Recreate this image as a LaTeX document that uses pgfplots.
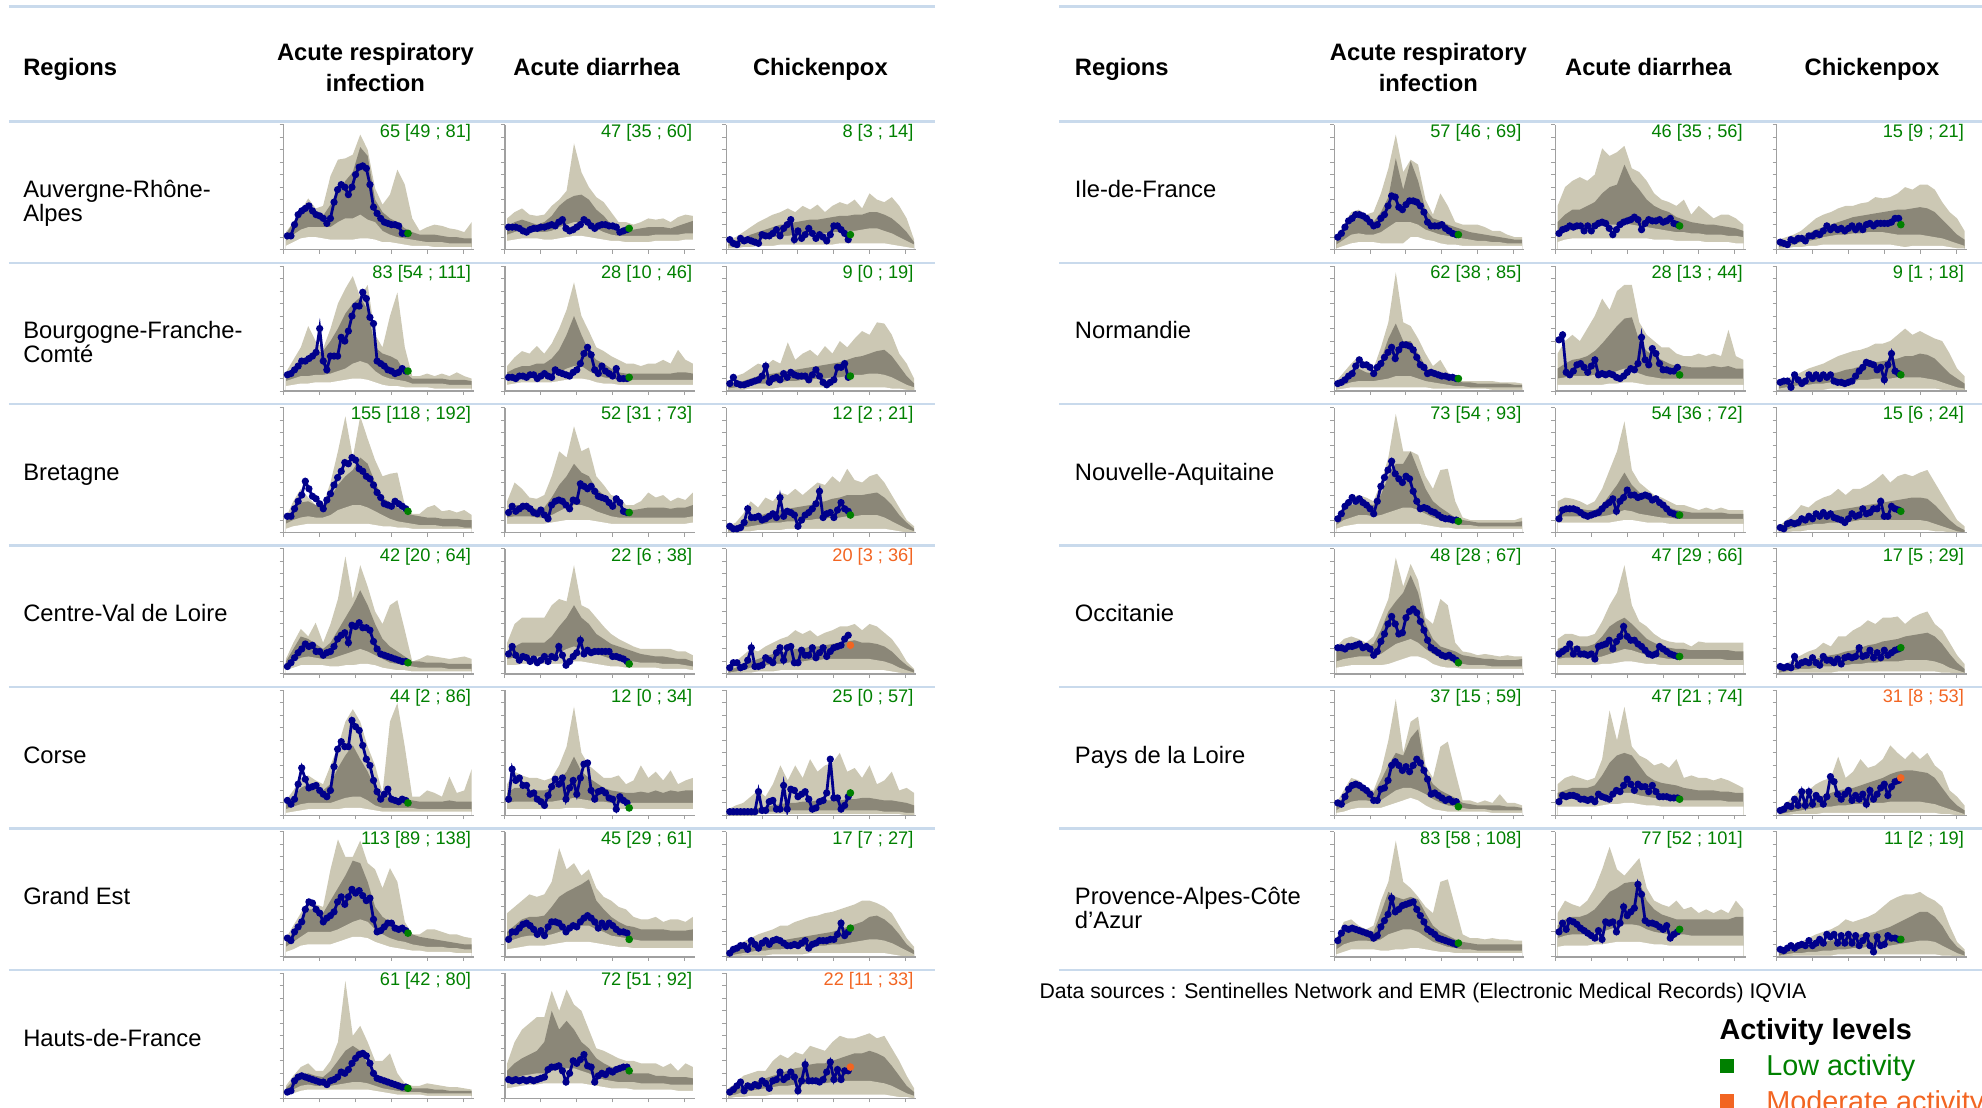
\documentclass[border=0pt]{standalone}
\usepackage{fontspec}
\setmainfont{Liberation Sans}
\usepackage{pgfplots}
\usepackage{pgfplotstable}
\pgfplotsset{compat=1.18}

\definecolor{outerc}{HTML}{CCC8B4}
\definecolor{innerc}{HTML}{8B8778}
\definecolor{linec}{HTML}{00008B}
\definecolor{lowc}{HTML}{008000}
\definecolor{modc}{HTML}{F26522}
\definecolor{rulec}{HTML}{C9DAEC}
\definecolor{axc}{HTML}{A0A0A0}

\newcommand\fh{\fontsize{9.4}{11}\selectfont\bfseries}
\newcommand\fr{\fontsize{9.4}{11}\selectfont}
\newcommand\fa{\fontsize{7.2}{8.5}\selectfont}
\newcommand\fs{\fontsize{8.4}{10}\selectfont}
\newcommand\fl{\fontsize{11.4}{13}\selectfont}

\pgfplotsset{spark/.style={scale only axis,width=75.25pt,height=49.45pt,
  xmin=0,xmax=53,ymin=0,ymax=100,axis lines*=left,
  axis line style={axc,line width=0.5pt},
  xtick={0,10,...,50},ytick={0,10,...,100},
  xticklabels={},yticklabels={},
  tick align=outside,major tick length=1.6pt,
  tick style={axc,line width=0.4pt},
  axis on top,anchor=south west}}

% band tables: outer low, inner low, inner high, outer high (every 2 weeks)
\pgfplotstableread{a b c d
3 7 12 14
6 12 22 22
9 16 29 31
10 18 33 41
10 18 30 33
9 18 27 35
8 18 36 59
8 22 45 72
8 25 55 73
8 25 62 76
9 28 82 92
9 24 75 80
8 22 40 49
6 15 30 36
6 12 25 44
5 10 22 64
4 9 17 52
3 8 14 25
3 7 12 15
3 6 12 18
2 6 12 20
2 6 11 19
2 5 10 17
2 5 10 16
2 5 9 14
2 5 9 22
}\tAa
\pgfplotstableread{a b c d
7 12 18 25
8 14 22 30
9 16 24 33
9 15 22 28
9 14 20 27
8 14 22 28
8 15 27 35
9 18 35 40
10 20 40 47
11 22 43 85
11 22 44 62
10 20 40 50
9 17 32 42
8 14 27 38
7 12 20 30
7 11 17 22
6 11 15 22
6 11 16 20
6 11 17 22
6 11 18 25
7 12 18 24
7 12 18 25
7 12 17 22
7 12 19 26
8 13 21 28
8 13 23 27
}\tAb
\pgfplotstableread{a b c d
1 3 5 8
1 4 7 10
2 5 9 14
2 7 12 18
3 8 14 22
3 9 16 25
3 10 18 28
4 11 20 30
4 11 20 33
4 12 22 30
4 12 23 35
4 13 24 32
4 13 24 36
4 13 25 30
4 14 26 35
5 14 27 38
5 15 27 36
5 15 28 40
5 16 28 33
5 17 30 45
5 17 30 40
5 15 28 38
4 13 25 42
3 10 20 35
2 7 14 25
1 4 6 8
}\tAc
\pgfplotstableread{a b c d
4 8 12 15
5 10 18 25
6 12 25 35
6 12 28 52
7 13 30 40
7 13 32 34
7 14 40 50
8 16 50 70
9 18 62 82
10 22 70 92
10 24 75 75
9 22 65 85
7 16 35 45
5 12 30 35
4 10 28 60
4 9 25 79
3 8 15 35
3 6 10 12
3 6 10 12
3 6 10 14
2 6 10 12
2 6 10 14
2 5 9 12
2 5 9 15
2 5 9 12
2 5 8 10
}\tBa
\pgfplotstableread{a b c d
5 10 15 20
6 11 18 27
7 12 20 32
7 12 20 30
7 12 22 36
7 12 22 30
7 13 26 38
8 15 33 50
9 18 45 65
10 20 60 87
10 20 45 60
9 16 32 48
7 13 25 35
6 11 22 32
6 10 18 28
5 9 15 25
5 9 14 22
5 9 14 22
5 9 14 20
5 9 14 22
5 9 14 22
5 9 14 25
5 9 14 22
5 9 15 33
5 9 15 25
5 9 14 22
}\tBb
\pgfplotstableread{a b c d
0 2 4 8
1 3 6 12
1 4 8 14
2 5 10 18
2 6 12 22
2 6 13 20
2 7 14 25
3 7 15 22
3 8 16 39
3 8 17 25
3 9 18 30
3 9 19 33
3 10 20 28
3 10 21 36
3 11 22 30
3 11 23 40
3 12 25 35
3 13 27 42
3 13 28 48
3 14 30 45
3 14 32 55
3 13 33 54
2 11 28 45
2 8 20 30
1 5 12 22
0 3 6 10
}\tBc
\pgfplotstableread{a b c d
3 7 10 12
5 10 18 25
6 12 24 35
7 13 25 28
7 12 22 22
7 12 20 22
7 14 28 40
7 18 38 65
7 20 45 93
7 22 50 60
7 22 60 93
7 20 55 75
6 17 40 58
5 14 28 45
5 11 24 47
4 9 20 48
4 8 16 22
3 7 14 15
3 6 13 15
3 6 12 20
3 6 12 22
3 5 11 17
3 5 11 18
3 5 11 16
3 4 10 18
3 4 10 14
}\tCa
\pgfplotstableread{a b c d
7 12 18 25
7 13 22 40
7 13 22 35
7 13 20 28
7 12 19 27
7 12 20 30
8 14 28 45
9 17 38 65
10 20 45 60
10 22 55 85
10 22 48 65
10 20 45 68
9 17 35 45
8 15 30 38
7 13 24 30
7 12 22 28
7 12 19 22
7 12 18 22
7 12 19 25
7 12 20 32
7 12 20 28
7 12 20 30
7 12 19 25
7 12 20 28
7 12 20 26
8 13 22 32
}\tCb
\pgfplotstableread{a b c d
0 1 3 5
0 2 5 8
1 4 8 15
1 5 11 25
2 6 13 20
2 7 15 28
2 8 16 25
2 8 18 32
3 9 19 30
3 9 20 35
3 10 21 30
3 10 22 35
3 11 24 40
3 11 25 38
3 12 27 45
3 12 28 40
3 13 30 51
3 13 30 42
3 14 30 40
3 14 31 45
3 14 32 47
3 12 28 40
2 9 22 30
1 6 14 20
0 3 8 10
0 1 3 5
}\tCc
\pgfplotstableread{a b c d
3 6 10 12
5 10 20 25
7 13 30 36
7 14 28 30
7 13 24 41
7 12 20 25
6 12 25 40
6 14 35 60
7 16 45 94
7 18 55 60
8 20 67 87
8 18 55 70
7 15 40 50
5 12 28 40
4 9 22 55
3 8 18 59
3 7 14 35
2 6 10 10
2 5 10 12
2 5 9 15
2 5 9 14
2 5 9 13
2 4 8 12
2 4 8 13
2 4 8 14
2 4 8 12
}\tDa
\pgfplotstableread{a b c d
7 12 18 25
7 13 22 40
8 14 25 45
8 14 25 45
8 14 25 45
8 14 25 45
8 15 30 55
8 17 38 60
9 20 45 58
10 22 55 87
10 20 45 55
9 18 40 52
8 16 32 45
7 14 28 38
6 12 24 32
6 11 22 28
5 10 20 25
5 10 18 22
5 9 16 20
5 9 15 20
5 9 14 20
4 8 14 20
4 8 13 20
4 8 12 18
4 7 12 18
3 6 10 15
}\tDb
\pgfplotstableread{a b c d
0 1 3 5
0 2 5 10
1 3 8 15
1 5 10 20
2 6 12 18
2 7 14 22
2 8 16 25
3 8 17 28
3 9 18 30
3 10 20 35
3 10 20 32
3 11 22 35
3 11 22 30
3 12 23 33
3 12 24 35
3 12 25 38
3 12 26 38
3 12 27 40
3 12 25 35
3 12 25 40
3 11 24 38
3 10 22 33
2 8 18 28
1 5 12 20
0 3 7 10
0 1 3 4
}\tDc
\pgfplotstableread{a b c d
2 5 10 12
3 7 15 20
4 9 22 30
5 10 25 32
5 10 22 28
5 10 20 25
5 10 25 40
5 12 38 55
6 14 48 75
6 15 56 85
6 15 45 75
5 12 35 55
4 8 22 40
3 6 15 18
3 6 15 75
3 6 13 90
3 6 12 55
3 6 12 15
3 5 11 15
3 5 11 20
3 5 11 18
3 5 11 15
3 5 12 31
3 5 11 18
3 5 11 20
3 5 11 37
}\tEa
\pgfplotstableread{a b c d
5 10 18 25
5 11 22 35
5 11 22 32
5 11 20 30
5 11 20 30
5 11 20 28
5 11 22 30
5 12 28 40
6 13 35 55
6 14 47 87
6 13 35 50
5 12 30 40
5 11 26 35
5 11 22 30
5 10 20 30
5 10 19 32
5 10 18 25
5 10 18 28
5 10 19 40
5 10 18 30
5 10 20 35
5 10 18 28
5 10 20 36
5 10 19 25
5 10 20 28
5 10 20 30
}\tEb
\pgfplotstableread{a b c d
0 1 3 5
0 1 3 8
0 2 4 10
0 2 5 15
1 2 6 20
1 3 7 15
1 3 8 25
1 3 9 40
1 4 10 28
1 4 10 40
1 4 11 30
1 4 11 45
1 4 12 35
1 4 12 40
1 4 12 42
1 4 12 50
1 4 13 35
1 4 13 38
1 4 14 30
1 4 14 40
1 4 13 25
1 3 12 28
1 3 12 35
1 3 11 20
0 2 10 22
0 2 8 18
}\tEc
\pgfplotstableread{a b c d
4 8 12 15
6 12 20 25
9 16 28 35
10 20 38 45
10 20 38 42
10 20 35 40
10 20 45 70
12 22 55 94
14 25 65 80
16 28 77 80
16 30 75 93
15 28 60 75
12 22 40 70
10 18 32 55
8 15 28 71
7 13 25 60
6 12 22 28
5 10 18 18
5 9 16 18
4 8 15 22
4 8 14 22
4 8 13 20
4 7 12 18
3 7 11 18
3 6 10 16
3 6 10 15
}\tFa
\pgfplotstableread{a b c d
6 12 20 35
7 14 25 40
8 16 30 45
9 17 32 50
9 17 32 48
9 17 33 50
10 18 40 60
11 20 48 87
12 22 52 70
12 24 55 75
12 25 58 65
12 25 62 70
11 22 45 55
10 20 38 48
9 17 32 45
8 16 28 40
8 15 25 38
7 14 24 32
7 13 22 30
7 13 22 30
7 13 22 32
7 13 22 28
7 13 21 30
7 13 21 30
7 13 21 28
7 13 22 32
}\tFb
\pgfplotstableread{a b c d
0 1 3 5
0 2 5 8
1 3 7 12
1 4 9 15
1 5 10 18
1 5 11 20
2 6 12 22
2 6 13 25
2 7 14 25
2 7 15 28
2 8 16 30
3 8 17 32
3 9 18 33
3 9 19 35
3 10 20 36
3 10 22 38
3 11 24 40
3 12 26 42
3 13 28 45
3 14 32 45
3 14 33 43
3 13 30 40
2 11 25 35
1 8 18 25
0 5 10 15
0 2 5 8
}\tFc
\pgfplotstableread{a b c d
2 4 8 10
4 7 14 18
6 10 18 25
7 11 20 28
7 10 18 22
7 10 17 22
7 10 22 30
7 11 30 45
7 12 38 94
7 13 42 50
7 13 38 58
7 12 28 45
6 10 20 30
5 8 15 30
4 7 13 36
3 6 11 20
3 5 9 12
3 5 8 10
3 5 8 10
2 4 8 12
2 4 7 11
2 4 7 10
2 4 6 9
2 4 6 9
2 4 6 8
2 4 6 7
}\tGa
\pgfplotstableread{a b c d
8 14 22 28
9 16 28 45
10 18 32 55
11 19 35 60
11 20 38 65
12 20 45 65
12 22 70 86
12 23 55 70
12 24 62 87
12 24 55 75
12 22 45 70
11 20 40 55
10 17 32 40
9 15 28 38
8 14 25 35
8 13 24 32
8 13 22 30
7 13 20 30
7 12 20 28
7 12 20 28
7 12 18 28
7 12 18 25
7 11 17 28
6 11 17 22
6 11 17 28
6 11 16 25
}\tGb
\pgfplotstableread{a b c d
0 2 4 8
1 3 7 12
1 5 10 18
2 6 12 20
2 7 14 22
2 8 16 22
3 9 18 30
3 10 20 35
3 10 22 32
3 11 24 37
3 11 25 35
3 12 27 42
3 12 28 40
3 12 28 38
3 13 30 45
3 13 32 50
3 14 34 48
3 14 36 48
3 14 36 50
3 14 38 52
3 13 36 48
3 12 33 50
2 10 26 40
1 7 18 30
1 4 10 18
0 2 5 8
}\tGc
\pgfplotstableread{a b c d
1 4 8 10
3 8 15 20
5 12 22 30
6 13 26 32
6 12 24 28
6 12 22 30
5 14 30 45
5 18 42 65
5 22 73 92
5 22 48 62
10 22 71 72
10 20 55 68
8 16 32 40
7 14 25 28
5 12 23 45
4 11 20 35
4 10 18 22
3 9 16 20
3 8 14 20
3 7 13 20
3 7 12 18
3 6 11 15
3 6 10 15
3 5 9 12
3 5 8 10
3 5 8 10
}\tHa
\pgfplotstableread{a b c d
6 12 22 35
8 14 28 50
9 16 32 55
9 17 32 58
9 18 35 55
9 18 38 60
9 19 45 81
9 20 50 75
9 20 52 78
9 21 68 83
9 20 55 65
9 19 48 62
9 18 40 55
8 17 35 45
8 16 32 40
8 15 30 38
7 14 26 35
7 14 24 40
7 13 22 28
7 13 21 35
6 12 20 30
6 12 20 25
6 12 19 28
6 11 18 28
5 11 17 25
5 10 15 20
}\tHb
\pgfplotstableread{a b c d
0 2 4 8
1 3 6 10
2 4 8 12
2 6 10 15
3 7 13 20
3 8 16 25
4 10 18 28
4 11 20 30
4 12 22 33
4 12 24 35
4 13 26 35
4 13 27 37
4 14 28 38
4 14 29 42
4 14 30 41
4 13 31 42
3 12 32 45
2 12 32 50
3 12 33 48
3 12 34 52
3 11 33 52
3 10 30 48
3 9 24 38
2 7 18 30
1 5 12 25
1 3 8 15
}\tHc
\pgfplotstableread{a b c d
1 3 6 8
2 5 10 15
3 7 15 22
3 8 18 28
3 8 15 22
3 8 14 18
3 9 25 35
3 10 42 55
3 12 54 95
3 12 40 55
3 12 40 52
3 10 30 42
3 8 20 30
2 7 14 20
2 6 12 25
2 5 10 15
2 4 8 10
2 4 7 8
2 3 7 8
2 3 6 8
2 3 6 8
1 3 6 8
1 3 6 7
1 3 6 7
1 3 5 7
1 3 5 6
}\tIa
\pgfplotstableread{a b c d
5 10 18 30
5 11 22 40
5 12 25 45
5 12 26 40
5 12 28 50
5 13 32 60
5 13 38 74
6 14 45 65
6 16 52 80
7 18 58 85
7 17 59 85
6 14 40 55
5 12 32 45
5 11 28 40
5 10 25 35
5 10 22 35
5 10 20 30
5 10 20 28
5 10 19 28
5 10 19 30
5 10 19 28
5 10 20 30
5 10 19 28
5 10 20 49
5 10 18 28
5 10 18 25
}\tIb
\pgfplotstableread{a b c d
0 2 4 8
0 3 6 10
1 4 7 12
1 5 9 15
1 5 10 18
1 6 11 20
1 6 12 22
2 7 14 25
2 7 15 28
2 8 17 30
2 8 18 32
2 9 20 33
2 9 22 35
2 10 23 38
2 10 24 38
2 10 25 40
2 11 26 45
2 11 28 50
2 11 28 45
2 11 30 48
2 10 29 45
2 9 26 42
1 7 20 40
1 5 14 30
0 3 10 18
0 2 6 12
}\tIc
\pgfplotstableread{a b c d
3 6 10 12
5 10 18 22
6 12 22 28
7 14 24 30
7 14 23 28
7 13 22 25
7 14 30 40
7 16 45 60
7 18 55 95
7 20 55 65
7 20 65 65
7 18 50 62
6 15 35 45
5 12 25 35
4 10 20 50
4 8 16 51
3 7 12 25
3 6 10 12
3 6 9 10
3 5 8 10
3 5 8 10
3 5 8 10
3 5 8 10
3 5 8 10
3 5 8 10
3 5 9 12
}\tJa
\pgfplotstableread{a b c d
8 12 18 25
8 13 20 28
8 13 20 27
8 13 19 25
8 13 18 22
8 13 18 25
8 13 22 35
8 14 30 50
9 16 38 65
10 18 48 89
10 17 38 50
9 15 32 40
8 14 28 35
8 13 24 30
8 12 22 28
7 12 20 25
7 11 18 22
7 11 17 22
7 11 16 20
7 11 16 18
7 11 16 20
7 11 16 18
7 11 16 20
7 11 15 18
7 11 15 18
7 11 15 18
}\tJb
\pgfplotstableread{a b c d
0 1 3 5
0 2 6 10
1 4 8 15
1 5 10 22
2 6 12 20
2 7 14 25
2 7 16 28
2 8 17 30
2 8 18 35
2 9 19 30
2 9 20 35
2 10 21 35
2 10 22 38
2 10 23 42
2 10 24 47
2 10 25 40
2 10 26 45
2 10 27 47
2 10 28 45
2 10 28 48
2 9 27 50
1 7 22 40
1 5 16 30
0 3 10 20
0 1 5 10
0 0 2 5
}\tJc
\pgfplotstableread{a b c d
5 10 18 22
6 12 22 28
7 13 24 30
7 14 24 28
7 14 22 25
7 14 24 30
7 16 35 45
8 20 50 60
10 24 58 93
12 26 65 70
14 28 79 88
14 25 65 75
12 20 40 45
8 16 28 40
6 13 22 60
5 11 20 55
5 9 18 25
4 8 15 18
4 7 14 17
4 7 13 15
4 7 12 16
4 6 12 15
4 6 11 14
4 6 11 15
4 6 11 14
4 6 12 14
}\tKa
\pgfplotstableread{a b c d
7 12 20 28
7 13 22 32
7 13 22 32
7 13 22 30
7 13 22 30
7 13 24 32
8 14 30 42
8 16 38 55
9 18 42 65
10 20 45 87
10 19 40 55
9 17 34 42
8 15 28 38
8 14 25 32
7 13 22 28
7 12 21 26
7 12 20 25
7 12 20 25
7 12 19 22
7 12 19 26
7 12 19 25
7 12 19 25
7 12 19 25
7 11 19 25
7 11 18 25
7 11 18 25
}\tKb
\pgfplotstableread{a b c d
0 1 3 5
0 2 5 8
1 3 7 12
1 4 9 15
1 4 11 18
1 5 12 20
1 6 14 25
1 6 15 22
2 7 16 30
2 7 18 30
2 8 19 35
2 8 21 38
2 9 23 43
2 9 24 40
2 10 26 45
2 10 27 45
2 10 28 46
2 11 30 40
2 11 31 45
2 11 32 48
2 11 33 50
2 10 30 40
1 8 24 35
1 5 16 25
0 3 9 15
0 1 4 8
}\tKc
\pgfplotstableread{a b c d
2 4 8 10
3 8 15 20
5 11 22 30
6 12 24 28
6 12 20 22
6 11 18 20
6 12 28 35
8 16 40 60
10 20 50 93
12 22 48 50
14 22 62 75
12 20 69 79
8 17 35 40
5 13 25 30
4 10 20 55
3 8 17 59
3 7 14 35
3 6 10 12
3 5 9 12
3 5 8 10
3 5 8 12
2 4 8 10
2 4 8 17
2 4 7 10
2 4 7 10
2 4 6 8
}\tLa
\pgfplotstableread{a b c d
7 12 18 25
7 13 20 30
7 13 22 32
7 13 22 30
7 13 22 28
7 13 24 30
8 14 32 45
9 16 42 84
9 17 48 60
10 18 50 87
10 18 48 55
9 16 40 48
8 15 32 45
8 14 28 40
7 13 26 42
7 13 25 38
7 12 24 45
7 12 22 30
7 12 21 32
7 12 20 30
7 12 20 30
7 12 20 28
7 12 19 30
7 11 19 28
7 11 18 25
7 11 18 22
}\tLb
\pgfplotstableread{a b c d
0 1 3 5
0 2 5 10
1 3 8 15
1 4 10 22
1 5 12 20
1 6 14 25
2 7 16 28
2 7 18 30
2 8 20 47
2 8 21 30
2 9 22 35
2 9 24 45
2 10 26 38
2 10 28 40
2 10 30 45
2 11 33 56
2 11 35 50
2 11 36 45
2 11 36 51
2 11 35 45
2 10 34 50
2 9 30 40
1 7 22 35
1 5 14 20
0 3 8 15
0 1 4 8
}\tLc
\pgfplotstableread{a b c d
2 6 12 15
4 10 22 28
6 12 24 30
6 13 22 25
6 13 20 22
6 12 20 25
5 14 35 45
5 18 52 60
6 20 48 93
6 22 46 60
7 22 48 55
7 20 46 48
6 16 35 40
5 12 25 35
4 10 20 60
4 8 17 62
3 7 14 40
3 6 12 18
3 6 11 15
3 5 10 15
3 5 10 14
3 5 10 15
3 5 10 14
3 5 10 14
3 5 10 13
3 5 10 13
}\tMa
\pgfplotstableread{a b c d
8 15 25 35
9 17 30 45
9 18 32 42
9 18 32 40
9 18 34 45
10 19 38 55
10 20 45 70
11 22 52 88
12 24 55 70
12 26 59 65
12 26 60 72
12 25 60 79
11 22 45 55
10 20 38 45
10 19 34 42
9 18 32 40
9 18 30 45
9 18 30 38
9 17 30 40
9 17 30 35
9 17 30 38
9 17 30 35
9 17 30 38
9 17 30 35
9 17 32 45
9 17 32 38
}\tMb
\pgfplotstableread{a b c d
0 1 3 5
0 2 5 8
1 3 6 10
1 3 8 12
1 4 9 15
1 4 10 18
1 5 12 20
1 5 13 22
2 6 14 25
2 6 16 30
2 7 17 28
2 7 18 30
2 8 19 32
2 8 20 35
2 9 22 40
2 9 24 45
2 10 27 48
2 11 30 50
2 12 33 50
2 13 36 52
2 13 36 48
2 12 32 45
1 9 25 40
1 6 15 25
0 3 8 12
0 1 4 6
}\tMc

% #1 left (px), #2 row top (px), #3 band table, #4 weekly line, #5 current week, #6 colour, #7 label
\newcommand\spark[7]{%
\begin{axis}[spark,at={({#1*0.5pt},{-(#2+101.5)*0.5pt})}]
\addplot[draw=none,fill=outerc] table[x expr=0.6+2.07*\coordindex,y index=3]{#3}\closedcycle;
\addplot[draw=none,fill=innerc] table[x expr=0.6+2.07*\coordindex,y index=2]{#3}\closedcycle;
\addplot[draw=none,fill=outerc] table[x expr=0.6+2.07*\coordindex,y index=1]{#3}\closedcycle;
\addplot[draw=none,fill=white] table[x expr=0.6+2.07*\coordindex,y index=0]{#3}\closedcycle;
\addplot[linec,line width=1.1pt,mark=*,mark size=0.85pt] table[header=false,row sep=\\,x expr=\coordindex+1,y index=0]{#4};
\addplot[only marks,mark=*,mark size=1.3pt,color=#6] coordinates {(34.6,#5)};
\end{axis}
\node[anchor=base east,inner sep=0pt,text=#6,font=\fa] at ({(#1+148.5)*0.5pt},{-(#2+12.4)*0.5pt}) {#7};
}

\begin{document}
\begin{tikzpicture}
\useasboundingbox (0,0) rectangle (784pt,-438pt);
\clip (0,0) rectangle (784pt,-438pt);
\begin{scope}[x=0.5pt,y=-0.5pt]
\foreach \y in {5,96,207.9,319.8,431.7,543.6,655.5,767.4}{
  \draw[rulec,line width=1pt] (7,\y) -- (740,\y);
  \draw[rulec,line width=1pt] (838,\y) -- (1580,\y);}
\tikzset{lab/.style={anchor=base west,inner sep=0pt},hd/.style={anchor=base,inner sep=0pt}}
% headers
\node[lab] at (18,59.7) {\fh Regions};
\node[hd] at (297,47.7) {\fh Acute respiratory};
\node[hd] at (297,72.7) {\fh infection};
\node[hd] at (472,59.7) {\fh Acute diarrhea};
\node[hd] at (649,59.7) {\fh Chickenpox};
\node[lab] at (850,59.7) {\fh Regions};
\node[hd] at (1130,47.7) {\fh Acute respiratory};
\node[hd] at (1130,72.7) {\fh infection};
\node[hd] at (1304,59.7) {\fh Acute diarrhea};
\node[hd] at (1481,59.7) {\fh Chickenpox};
% regions
\node[lab] at (18,156.2) {\fr Auvergne-Rhône-};
\node[lab] at (18,175.2) {\fr Alpes};
\node[lab] at (18,268.1) {\fr Bourgogne-Franche-};
\node[lab] at (18,287.1) {\fr Comté};
\node[lab] at (18,380) {\fr Bretagne};
\node[lab] at (18,491.9) {\fr Centre-Val de Loire};
\node[lab] at (18,603.8) {\fr Corse};
\node[lab] at (18,715.7) {\fr Grand Est};
\node[lab] at (18,827.6) {\fr Hauts-de-France};
\node[lab] at (850,156.2) {\fr Ile-de-France};
\node[lab] at (850,268.1) {\fr Normandie};
\node[lab] at (850,380) {\fr Nouvelle-Aquitaine};
\node[lab] at (850,491.9) {\fr Occitanie};
\node[lab] at (850,603.8) {\fr Pays de la Loire};
\node[lab] at (850,715.7) {\fr Provence-Alpes-Côte};
\node[lab] at (850,734.7) {\fr d’Azur};
% footer and legend
\node[lab] at (822,790) {\fs Data sources : Sentinelles Network and EMR (Electronic Medical Records) IQVIA};
\node[lab] at (1360,822.2) {\fl\bfseries Activity levels};
\fill[lowc] (1361,837.5) rectangle (1372,848.5);
\node[lab,text=lowc] at (1397,851.2) {\fl Low activity};
\fill[modc] (1361,865.5) rectangle (1372,876.5);
\node[lab,text=modc] at (1397,879.2) {\fl Moderate activity};
\end{scope}

% left table
\spark{224.5}{96}{\tAa}{11\\11\\20\\28\\31\\33\\35\\31\\28\\27\\25\\21\\25\\38\\48\\52\\50\\44\\50\\60\\66\\67\\65\\52\\34\\29\\25\\22\\21\\20\\20\\19\\13\\13\\}{13}{lowc}{65 [49 ; 81]}
\spark{399.5}{96}{\tAb}{18\\18\\18\\17\\15\\14\\16\\17\\17\\18\\18\\19\\20\\19\\22\\24\\17\\15\\16\\18\\20\\24\\22\\19\\17\\19\\20\\20\\19\\19\\18\\14\\15\\16\\}{17}{lowc}{47 [35 ; 60]}
\spark{574.5}{96}{\tAc}{8\\5\\4\\9\\7\\8\\7\\6\\5\\12\\11\\11\\13\\16\\11\\17\\20\\24\\8\\15\\9\\12\\17\\13\\9\\12\\10\\7\\12\\19\\19\\16\\13\\8\\}{12}{lowc}{8 [3 ; 14]}
\spark{224.5}{207.9}{\tBa}{13\\14\\17\\20\\24\\24\\26\\28\\31\\50\\24\\17\\28\\28\\28\\43\\40\\48\\60\\68\\68\\79\\74\\59\\54\\24\\22\\20\\17\\16\\14\\15\\18\\16\\}{16}{lowc}{83 [54 ; 111]}
\spark{399.5}{207.9}{\tBb}{11\\11\\10\\12\\12\\11\\13\\13\\10\\12\\14\\12\\11\\17\\15\\14\\13\\12\\15\\17\\22\\30\\35\\29\\17\\14\\20\\16\\14\\12\\18\\10\\10\\10\\}{11}{lowc}{28 [10 ; 46]}
\spark{574.5}{207.9}{\tBc}{6\\11\\6\\5\\5\\6\\7\\8\\9\\12\\20\\7\\10\\11\\9\\14\\11\\15\\13\\12\\12\\12\\9\\13\\17\\12\\7\\5\\7\\9\\19\\19\\22\\11\\}{12}{lowc}{9 [0 ; 19]}
\spark{224.5}{319.8}{\tCa}{13\\13\\19\\25\\30\\41\\35\\29\\27\\23\\19\\26\\31\\38\\44\\49\\56\\55\\60\\58\\51\\49\\45\\43\\38\\32\\28\\23\\22\\21\\25\\23\\21\\19\\}{17}{lowc}{155 [118 ; 192]}
\spark{399.5}{319.8}{\tCb}{16\\21\\17\\19\\21\\21\\19\\16\\15\\18\\14\\11\\22\\25\\26\\25\\22\\19\\26\\25\\39\\37\\35\\37\\33\\29\\28\\27\\24\\21\\27\\24\\17\\16\\}{16}{lowc}{52 [31 ; 73]}
\spark{574.5}{319.8}{\tCc}{5\\3\\3\\4\\8\\19\\12\\12\\13\\10\\11\\13\\15\\12\\28\\13\\17\\16\\14\\5\\10\\14\\16\\19\\23\\33\\12\\15\\16\\12\\18\\24\\19\\17\\}{14}{lowc}{12 [2 ; 21]}
\spark{224.5}{431.7}{\tDa}{6\\9\\13\\17\\20\\24\\22\\23\\18\\18\\15\\17\\18\\22\\28\\31\\33\\25\\39\\38\\41\\37\\37\\35\\26\\20\\16\\15\\14\\13\\12\\11\\10\\10\\}{9}{lowc}{42 [20 ; 64]}
\spark{399.5}{431.7}{\tDb}{16\\22\\15\\11\\14\\13\\10\\12\\9\\11\\14\\10\\14\\13\\22\\15\\7\\10\\14\\17\\27\\16\\19\\17\\18\\18\\18\\18\\18\\14\\14\\13\\12\\10\\}{8}{lowc}{22 [6 ; 38]}
\spark{574.5}{431.7}{\tDc}{5\\9\\9\\5\\6\\11\\21\\6\\6\\7\\13\\11\\9\\17\\21\\11\\21\\22\\9\\9\\19\\15\\15\\21\\13\\17\\21\\14\\18\\21\\22\\23\\28\\31\\}{23}{modc}{20 [3 ; 36]}
\spark{224.5}{543.6}{\tEa}{12\\9\\13\\25\\38\\29\\22\\23\\24\\20\\17\\15\\20\\39\\53\\59\\55\\55\\76\\71\\68\\56\\45\\40\\28\\19\\13\\17\\21\\13\\12\\11\\13\\12\\}{10}{lowc}{44 [2 ; 86]}
\spark{399.5}{543.6}{\tEb}{13\\37\\28\\30\\24\\24\\17\\18\\13\\11\\8\\16\\23\\29\\25\\30\\13\\22\\28\\17\\30\\41\\42\\20\\13\\19\\20\\18\\14\\13\\5\\15\\12\\10\\}{6}{lowc}{12 [0 ; 34]}
\spark{574.5}{543.6}{\tEc}{3\\3\\3\\3\\3\\3\\3\\3\\19\\4\\4\\11\\12\\5\\5\\24\\5\\21\\20\\15\\17\\19\\13\\5\\6\\11\\12\\18\\45\\14\\14\\5\\8\\15\\}{18}{lowc}{25 [0 ; 57]}
\spark{224.5}{655.5}{\tFa}{15\\13\\20\\24\\28\\38\\44\\43\\38\\35\\28\\31\\33\\36\\44\\48\\42\\48\\54\\51\\53\\49\\45\\47\\30\\20\\21\\24\\27\\27\\23\\22\\23\\21\\}{19}{lowc}{113 [89 ; 138]}
\spark{399.5}{655.5}{\tFb}{14\\20\\20\\23\\26\\27\\25\\22\\18\\21\\17\\24\\28\\28\\27\\24\\20\\23\\25\\24\\28\\31\\33\\31\\28\\23\\27\\24\\27\\25\\22\\20\\20\\19\\}{14}{lowc}{45 [29 ; 61]}
\spark{574.5}{655.5}{\tFc}{3\\6\\7\\9\\9\\6\\13\\10\\7\\11\\13\\10\\13\\14\\13\\11\\9\\9\\10\\9\\11\\13\\7\\10\\11\\13\\13\\13\\14\\14\\18\\27\\17\\20\\}{23}{lowc}{17 [7 ; 27]}
\spark{224.5}{767.4}{\tGa}{5\\6\\14\\17\\18\\17\\16\\15\\14\\13\\13\\11\\14\\15\\17\\21\\20\\23\\28\\32\\35\\36\\34\\28\\20\\16\\15\\14\\13\\12\\11\\10\\9\\9\\}{8}{lowc}{61 [42 ; 80]}
\spark{399.5}{767.4}{\tGb}{15\\14\\15\\14\\15\\14\\15\\14\\15\\16\\17\\23\\25\\25\\26\\22\\13\\20\\30\\28\\31\\35\\26\\25\\13\\18\\20\\19\\22\\21\\23\\24\\25\\25\\}{22}{lowc}{72 [51 ; 92]}
\spark{574.5}{767.4}{\tGc}{5\\7\\10\\13\\6\\10\\9\\11\\10\\14\\12\\8\\14\\15\\21\\15\\17\\21\\17\\6\\14\\27\\14\\14\\14\\13\\15\\21\\29\\15\\23\\15\\22\\22\\}{25}{modc}{22 [11 ; 33]}
% right table
\spark{1055.5}{96}{\tHa}{10\\13\\18\\23\\25\\28\\28\\27\\25\\22\\19\\20\\25\\28\\35\\43\\42\\34\\32\\36\\39\\39\\38\\35\\30\\22\\19\\19\\19\\20\\17\\15\\13\\12\\}{12}{lowc}{57 [46 ; 69]}
\spark{1230.5}{96}{\tHb}{13\\16\\17\\19\\18\\19\\19\\15\\19\\15\\19\\21\\22\\21\\17\\12\\16\\20\\22\\23\\24\\26\\24\\16\\21\\24\\23\\23\\24\\22\\23\\25\\21\\20\\}{19}{lowc}{46 [35 ; 56]}
\spark{1405.5}{96}{\tHc}{6\\5\\4\\8\\7\\9\\9\\7\\11\\11\\13\\12\\15\\19\\16\\18\\16\\17\\15\\17\\19\\16\\19\\16\\20\\21\\19\\21\\21\\21\\21\\22\\25\\25\\}{20}{lowc}{15 [9 ; 21]}
\spark{1055.5}{207.9}{\tIa}{6\\7\\9\\12\\14\\20\\25\\21\\21\\19\\14\\19\\22\\27\\31\\35\\26\\33\\37\\37\\36\\33\\27\\21\\19\\14\\15\\14\\13\\12\\12\\11\\11\\10\\}{10}{lowc}{62 [38 ; 85]}
\spark{1230.5}{207.9}{\tIb}{41\\45\\15\\13\\16\\21\\22\\19\\15\\20\\25\\13\\14\\13\\14\\13\\11\\10\\12\\15\\18\\17\\22\\43\\25\\21\\34\\30\\22\\17\\17\\16\\16\\19\\}{13}{lowc}{28 [13 ; 44]}
\spark{1405.5}{207.9}{\tIc}{7\\8\\8\\3\\13\\9\\6\\8\\13\\10\\13\\10\\13\\11\\13\\8\\7\\7\\6\\7\\8\\12\\16\\19\\23\\22\\21\\17\\19\\9\\21\\30\\16\\14\\}{13}{lowc}{9 [1 ; 18]}
\spark{1055.5}{319.8}{\tJa}{11\\15\\21\\24\\28\\25\\27\\24\\22\\19\\15\\25\\37\\44\\50\\57\\47\\43\\40\\45\\43\\33\\25\\19\\20\\19\\17\\16\\14\\12\\11\\11\\10\\10\\}{9}{lowc}{73 [54 ; 93]}
\spark{1230.5}{319.8}{\tJb}{11\\18\\19\\19\\19\\18\\16\\14\\13\\14\\15\\16\\19\\22\\24\\27\\17\\25\\28\\34\\30\\30\\28\\29\\30\\29\\26\\27\\24\\22\\19\\16\\15\\14\\}{14}{lowc}{54 [36 ; 72]}
\spark{1405.5}{319.8}{\tJc}{4\\3\\7\\8\\7\\8\\11\\10\\13\\11\\15\\13\\16\\13\\15\\12\\11\\10\\8\\11\\15\\13\\14\\19\\15\\16\\19\\19\\25\\13\\13\\21\\19\\18\\}{17}{lowc}{15 [6 ; 24]}
\spark{1055.5}{431.7}{\tKa}{21\\21\\20\\22\\22\\23\\24\\21\\22\\20\\15\\18\\26\\32\\40\\46\\40\\32\\33\\45\\50\\52\\49\\42\\35\\27\\21\\19\\17\\15\\14\\15\\13\\11\\}{9}{lowc}{48 [28 ; 67]}
\spark{1230.5}{431.7}{\tKb}{16\\18\\20\\24\\16\\20\\16\\16\\15\\16\\12\\22\\23\\24\\27\\20\\26\\30\\38\\30\\27\\27\\24\\22\\19\\16\\15\\16\\22\\20\\18\\16\\15\\14\\}{14}{lowc}{47 [29 ; 66]}
\spark{1405.5}{431.7}{\tKc}{6\\5\\6\\5\\14\\7\\9\\10\\9\\13\\9\\7\\14\\11\\11\\9\\12\\8\\13\\14\\13\\14\\21\\14\\15\\19\\13\\17\\13\\19\\15\\17\\19\\20\\}{21}{lowc}{17 [5 ; 29]}
\spark{1055.5}{543.6}{\tLa}{10\\9\\15\\21\\24\\25\\24\\22\\20\\17\\12\\12\\21\\22\\28\\40\\43\\40\\36\\39\\35\\40\\45\\42\\36\\29\\17\\18\\16\\14\\12\\13\\11\\11\\}{7}{lowc}{37 [15 ; 59]}
\spark{1230.5}{543.6}{\tLb}{11\\16\\15\\16\\16\\15\\13\\13\\12\\13\\11\\17\\15\\14\\13\\17\\20\\19\\24\\29\\25\\20\\25\\23\\23\\19\\24\\19\\15\\15\\15\\14\\14\\14\\}{13}{lowc}{47 [21 ; 74]}
\spark{1405.5}{543.6}{\tLc}{4\\5\\8\\7\\13\\8\\19\\8\\19\\9\\16\\13\\9\\15\\31\\27\\17\\13\\17\\20\\12\\16\\13\\17\\9\\20\\13\\17\\22\\25\\16\\23\\27\\28\\}{30}{modc}{31 [8 ; 53]}
\spark{1055.5}{655.5}{\tMa}{13\\19\\23\\22\\23\\22\\21\\20\\19\\18\\15\\17\\24\\29\\34\\47\\36\\38\\41\\42\\43\\44\\38\\33\\28\\22\\20\\18\\15\\14\\13\\12\\11\\10\\}{11}{lowc}{83 [58 ; 108]}
\spark{1230.5}{655.5}{\tMb}{20\\27\\22\\29\\28\\26\\23\\21\\19\\17\\15\\21\\14\\28\\27\\28\\20\\27\\40\\33\\36\\39\\58\\50\\29\\27\\27\\26\\24\\22\\25\\15\\18\\20\\}{22}{lowc}{77 [52 ; 101]}
\spark{1405.5}{655.5}{\tMc}{6\\5\\7\\9\\7\\9\\10\\9\\13\\9\\11\\14\\11\\18\\16\\18\\11\\17\\11\\18\\11\\17\\9\\13\\17\\9\\4\\16\\9\\10\\17\\15\\15\\14\\}{14}{lowc}{11 [2 ; 19]}
\end{tikzpicture}
\end{document}
